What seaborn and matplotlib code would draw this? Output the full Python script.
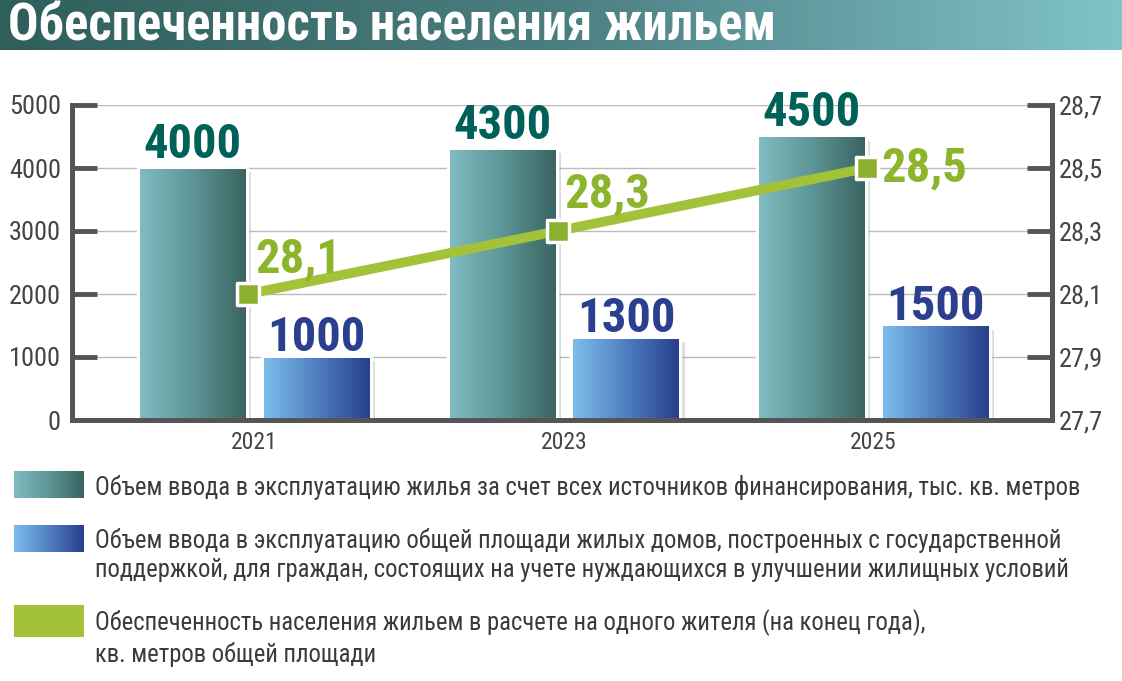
import numpy as np
import pandas as pd
import matplotlib
matplotlib.use('Agg')
import matplotlib.pyplot as plt
import matplotlib.patheffects as pe
from matplotlib.colors import LinearSegmentedColormap
from matplotlib import font_manager
import seaborn as sns

# data
years = ['2021', '2023', '2025']
total_housing = [4000, 4300, 4500]      # тыс. кв. метров, все источники
state_support = [1000, 1300, 1500]      # с господдержкой
provision = [28.1, 28.3, 28.5]          # кв. метров на жителя
left_ticks = [0, 1000, 2000, 3000, 4000, 5000]
right_ticks = [27.7, 27.9, 28.1, 28.3, 28.5, 28.7]
series_names = ['Объем ввода в эксплуатацию жилья за счет всех источников финансирования, тыс. кв. метров',
                'Объем ввода в эксплуатацию общей площади жилых домов, построенных с государственной\n'
                'поддержкой, для граждан, состоящих на учете нуждающихся в улучшении жилищных условий',
                'Обеспеченность населения жильем в расчете на одного жителя (на конец года),\n'
                'кв. метров общей площади']
title = 'Обеспеченность населения жильем'


def pick_font(names):
    for n in names:
        try:
            font_manager.findfont(font_manager.FontProperties(family=n), fallback_to_default=False)
            return n
        except Exception:
            pass
    return 'DejaVu Sans'


sns.set_style('white')
cond = pick_font(['Liberation Sans Narrow', 'DejaVu Sans Condensed', 'Roboto Condensed', 'Open Sans', 'DejaVu Sans'])
plt.rcParams['font.family'] = [cond, 'DejaVu Sans']

teal_cmap = LinearSegmentedColormap.from_list('teal', ['#80bcc1', '#5e9596', '#3a6460'])
blue_cmap = LinearSegmentedColormap.from_list('blue', ['#7dbdeb', '#4f7fc0', '#283f8c'])
banner_cmap = LinearSegmentedColormap.from_list('banner', ['#2f5f5b', '#4b7e80', '#80c3c9'])
grey = '#555555'
green = '#a3c139'

W, H = 1122, 681
fig = plt.figure(figsize=(W / 100, H / 100), dpi=100)

# title banner
bax = fig.add_axes([0, 1 - 50 / H, 1, 50 / H])
bax.imshow(np.linspace(0, 1, 256)[None, :], cmap=banner_cmap, aspect='auto', extent=[0, 1, 0, 1])
bax.set_axis_off()
bax.text(0.007, 0.47, title, color='white', fontsize=36.5, fontweight='bold', va='center', ha='left',
         transform=bax.transAxes)

# main axes
ax = fig.add_axes([72 / W, 1 - 420 / H, 980 / W, 315 / H])
df = pd.DataFrame({'year': years * 2,
                   'value': total_housing + state_support,
                   'series': ['total'] * 3 + ['state'] * 3})
sns.barplot(data=df, x='year', y='value', hue='series', palette=['#5e9596', '#4f7fc0'],
            width=0.8, gap=0.12, legend=False, ax=ax, zorder=2)

label_colors = {0: '#00605a', 1: '#2b3f8f'}
label_offsets = {0: 0, 1: -3}
for i, patch in enumerate(ax.patches):
    x0, y0 = patch.get_x(), patch.get_y()
    w, h = patch.get_width(), patch.get_height()
    k = 0 if i < 3 else 1
    cmap = teal_cmap if k == 0 else blue_cmap
    patch.set_facecolor('white')
    patch.set_edgecolor('white')
    patch.set_linewidth(2.5)
    patch.set_path_effects([pe.SimplePatchShadow(offset=(3, -3), shadow_rgbFace='#999999', alpha=0.35),
                            pe.Normal()])
    ax.imshow(np.linspace(0, 1, 256)[None, :], cmap=cmap, aspect='auto',
              extent=[x0 + 0.006, x0 + w - 0.006, y0, y0 + h - 20], zorder=2.5)
    ax.annotate(f'{int(h)}', (x0 + w / 2, h), xytext=(0, label_offsets[k]), textcoords='offset points',
                ha='center', va='bottom', fontsize=35, fontweight='bold',
                color=label_colors[k], zorder=5)

ax.set_xlim(-0.59, 2.577)
ax.set_ylim(0, 5000)
ax.set_yticks(left_ticks)
ax.set_yticklabels([str(t) for t in left_ticks], fontsize=19, color='#444444')
ax.tick_params(axis='y', direction='in', length=18, width=3.5, color=grey, pad=8)
ax.tick_params(axis='x', length=0, labelsize=17, labelcolor='#444444', pad=8)
ax.set_xlabel('')
ax.set_ylabel('')
ax.grid(axis='y', color='#bbbbbb', linewidth=1, zorder=0)
ax.set_axisbelow(True)
for s in ['left', 'bottom', 'right']:
    ax.spines[s].set_color(grey)
    ax.spines[s].set_linewidth(3.5)
ax.spines['top'].set_visible(False)

# line on the right axis
ax2 = ax.twinx()
line_df = pd.DataFrame({'x': np.arange(len(years)) - 0.02, 'y': provision})
sns.lineplot(data=line_df, x='x', y='y', color=green, linewidth=7, ax=ax2, zorder=3)
ax2.scatter(line_df['x'], line_df['y'], marker='s', s=260, color='#8bb030',
            edgecolor='white', linewidth=2.5, zorder=4)
offsets = [((5, 8), 'bottom'), ((5, 10), 'bottom'), ((10, 0), 'center')]
for xv, yv, (off, va) in zip(line_df['x'], provision, offsets):
    ax2.annotate(f'{yv:.1f}'.replace('.', ','), (xv, yv), xytext=off, textcoords='offset points',
                 ha='left', va=va, fontsize=35, fontweight='bold', color='#8db52c', zorder=6)
ax2.set_ylim(27.7, 28.7)
ax2.set_yticks(right_ticks)
ax2.set_yticklabels([f'{t:.1f}'.replace('.', ',') for t in right_ticks], fontsize=19, color='#444444')
ax2.tick_params(axis='y', direction='in', length=18, width=3.5, color=grey, pad=5)
ax2.set_xlabel('')
ax2.set_ylabel('')
ax2.set_xlim(-0.59, 2.577)
for s in ['left', 'bottom', 'right']:
    ax2.spines[s].set_color(grey)
    ax2.spines[s].set_linewidth(3.5)
ax2.spines['top'].set_visible(False)
ax2.grid(False)

# legend drawn by hand
swatches = [(471, 498, teal_cmap), (525, 552, blue_cmap), (605, 637, None)]
text_y = [487, 555, 638]
for (top, bot, cmap), ty, name in zip(swatches, text_y, series_names):
    lax = fig.add_axes([14 / W, 1 - bot / H, 70 / W, (bot - top) / H])
    if cmap is not None:
        lax.imshow(np.linspace(0, 1, 256)[None, :], cmap=cmap, aspect='auto')
    else:
        lax.set_facecolor(green)
    lax.set_xticks([])
    lax.set_yticks([])
    for s in lax.spines.values():
        s.set_visible(False)
    fig.text(95 / W, 1 - ty / H, name, fontsize=17.7, color='#3a3a3a', va='center', ha='left',
             linespacing=1.3)

fig.savefig('out.png', dpi=100)
